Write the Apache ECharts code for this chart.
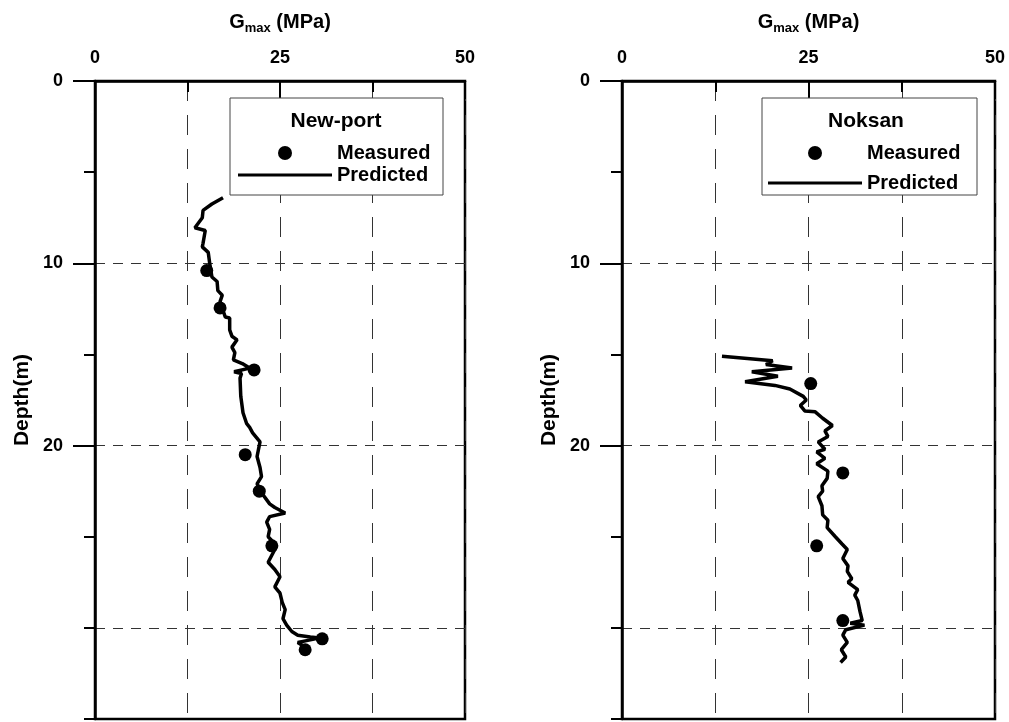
<!DOCTYPE html>
<html>
<head>
<meta charset="utf-8">
<script src="https://cdn.jsdelivr.net/npm/echarts@6/dist/echarts.min.js"></script>
<style>
  html, body { margin: 0; padding: 0; background: #fff; }
  #chart { width: 1009px; height: 722px; }
</style>
</head>
<body>
<div id="chart"></div>
<script>
// New-port site: predicted Gmax profile (depth in m, Gmax in MPa)
var npPredDepth = [6.4, 6.75, 7.1, 7.5, 8.05, 8.2, 8.9, 9.1, 9.4, 10.0, 10.75, 11.0, 11.5, 11.75, 12.1, 12.95, 13.0, 13.65, 14.0, 14.2, 14.6, 14.9, 15.3, 15.5, 15.75, 15.95, 16.05, 16.3, 17.3, 18.2, 18.8, 19.0, 19.3, 19.8, 20.2, 20.6, 21.2, 21.7, 22.1, 22.7, 23.2, 23.4, 23.7, 23.9, 24.2, 24.6, 25.0, 25.3, 25.7, 26.4, 26.8, 27.2, 27.75, 28.1, 28.6, 29.0, 29.5, 29.85, 30.2, 30.4, 30.5, 30.55, 30.7, 30.8, 30.95];
var npPredG = [17.3, 15.8, 14.6, 14.5, 13.5, 14.9, 14.6, 14.5, 15.3, 15.5, 15.8, 16.5, 16.6, 17.2, 16.9, 17.6, 18.2, 18.2, 18.5, 19.2, 18.5, 18.9, 18.7, 19.9, 20.9, 18.8, 19.8, 19.6, 19.7, 20.0, 20.5, 20.9, 21.3, 22.3, 22.1, 21.9, 22.3, 22.5, 21.9, 22.7, 23.6, 24.3, 25.7, 23.6, 23.2, 23.6, 23.4, 24.1, 24.3, 23.4, 24.3, 25.0, 24.3, 25.0, 25.3, 25.7, 25.4, 25.9, 26.6, 27.4, 29.1, 30.4, 28.6, 27.4, 28.0];
// New-port measured points
var npMeasDepth = [10.4, 12.45, 15.85, 20.5, 22.5, 25.5, 30.6, 31.2];
var npMeasG = [15.1, 16.9, 21.5, 20.3, 22.2, 23.9, 30.7, 28.4];

// Noksan site
var nkPredDepth = [15.1, 15.35, 15.55, 15.75, 15.95, 16.2, 16.5, 16.7, 16.9, 17.3, 17.5, 17.8, 18.1, 18.15, 18.5, 18.9, 19.2, 19.5, 19.8, 20.2, 20.35, 20.7, 21.0, 21.4, 21.8, 22.2, 22.5, 22.8, 23.3, 23.8, 24.1, 24.5, 25.0, 25.4, 25.7, 26.2, 26.6, 26.9, 27.3, 27.5, 27.9, 28.2, 28.5, 29.1, 29.6, 29.75, 29.85, 30.1, 30.4, 30.8, 31.2, 31.6, 31.9];
var nkPredG = [13.4, 20.2, 19.3, 22.8, 17.4, 20.9, 16.5, 20.5, 22.5, 24.3, 24.7, 23.9, 24.5, 25.9, 26.9, 28.2, 27.2, 27.6, 26.3, 27.2, 26.1, 27.2, 26.1, 27.6, 27.5, 26.8, 26.9, 26.3, 26.8, 26.9, 27.6, 27.5, 28.6, 29.5, 30.2, 29.6, 30.3, 30.2, 30.8, 30.3, 31.6, 31.2, 31.6, 31.9, 32.2, 30.6, 32.5, 30.0, 29.6, 30.2, 29.4, 30.0, 29.3];
var nkMeasDepth = [16.6, 21.5, 25.5, 29.6];
var nkMeasG = [25.3, 29.6, 26.1, 29.6];

var siteNames = ["New-port", "Noksan"];
var depthTicks = [0, 10, 20, 30];

var FONT = "'Liberation Sans', Arial, sans-serif";

function pairs(g, d) {
  return g.map(function (v, i) { return [v, d[i]]; });
}

function xAxisFor(gi) {
  var dash = { color: "#333", width: 1, type: [20, 14] };
  return {
    gridIndex: gi,
    type: "value",
    position: "top",
    min: 0,
    max: 50,
    interval: 25,
    name: "{g|G}{s|max}{g| (MPa)}",
    nameLocation: "middle",
    nameGap: 46,
    nameTextStyle: {
      rich: {
        g: { fontSize: 20, fontWeight: "bold", fontFamily: FONT, color: "#000" },
        s: { fontSize: 13, fontWeight: "bold", fontFamily: FONT, color: "#000", padding: [12, 0, 0, 0] },
      },
    },
    axisLine: { lineStyle: { color: "#000", width: 2.5 } },
    axisTick: { inside: true, length: 18, lineStyle: { color: "#000", width: 2 } },
    minorTick: { show: true, splitNumber: 2, length: 11, lineStyle: { color: "#000", width: 2 } },
    axisLabel: { color: "#000", fontSize: 18, fontWeight: "bold", fontFamily: FONT, margin: 14 },
    splitLine: { show: true, lineStyle: dash },
    minorSplitLine: { show: true, lineStyle: dash },
  };
}

function yAxesFor(gi) {
  return [
    {
      gridIndex: gi,
      type: "value",
      position: "left",
      inverse: true,
      min: 0,
      max: 35,
      interval: 10,
      name: "Depth(m)",
      nameLocation: "middle",
      nameGap: 62,
      nameTextStyle: { color: "#000", fontSize: 21, fontWeight: "bold", fontFamily: FONT },
      axisLine: { lineStyle: { color: "#000", width: 2.5 } },
      axisTick: { length: 22, customValues: depthTicks, lineStyle: { color: "#000", width: 2 } },
      axisLabel: {
        color: "#000", fontSize: 18, fontWeight: "bold", fontFamily: FONT, margin: 32,
        showMaxLabel: false, customValues: depthTicks,
      },
      splitLine: { show: true, lineStyle: { color: "#333", width: 1, type: [10, 8] } },
    },
    {
      // short ticks every 5 m
      gridIndex: gi,
      type: "value",
      position: "left",
      inverse: true,
      min: 0,
      max: 35,
      interval: 5,
      axisLine: { show: false },
      axisTick: { length: 11, lineStyle: { color: "#000", width: 2 } },
      axisLabel: { show: false },
      splitLine: { show: false },
    },
  ];
}

function legendFor(left, gap) {
  return {
    left: left,
    top: 143,
    orient: "vertical",
    padding: 0,
    itemWidth: 94,
    itemHeight: 14,
    itemGap: gap,
    selectedMode: false,
    itemStyle: { opacity: 1 },
    textStyle: { color: "#000", fontSize: 20, fontWeight: "bold", fontFamily: FONT },
    data: [
      { name: "Measured", icon: "circle", itemStyle: { color: "#000", opacity: 1 } },
      { name: "Predicted", icon: "path://M0,0 L94,0 L94,3 L0,3 Z", itemStyle: { color: "#000", opacity: 1 } },
    ],
  };
}

function boxFor(x, w, title, cx) {
  return [
    {
      type: "rect",
      z: 3,
      shape: { x: x, y: 98, width: w, height: 97 },
      style: { fill: "#fff", stroke: "#444", lineWidth: 1 },
    },
    {
      type: "text",
      z: 5,
      x: cx,
      y: 121,
      style: {
        text: title,
        font: "bold 21px " + FONT,
        fill: "#000",
        align: "center",
        verticalAlign: "middle",
        textAlign: "center",
        textVerticalAlign: "middle",
      },
    },
  ];
}

var chart = echarts.init(document.getElementById("chart"));

var yAxes = yAxesFor(0).concat(yAxesFor(1));

var option = {
  animation: false,
  backgroundColor: "#fff",
  grid: [
    { left: 95, top: 81, width: 370, height: 638, show: true, borderColor: "#000", borderWidth: 2.5 },
    { left: 622, top: 81, width: 373, height: 638, show: true, borderColor: "#000", borderWidth: 2.5 },
  ],
  xAxis: [xAxisFor(0), xAxisFor(1)],
  yAxis: yAxes,
  legend: [legendFor(238, 2), legendFor(768, 10)],
  graphic: boxFor(230, 213, siteNames[0], 336).concat(boxFor(762, 215, siteNames[1], 866)),
  series: [
    {
      name: "Predicted", type: "line", xAxisIndex: 0, yAxisIndex: 0,
      symbol: "none", lineStyle: { color: "#000", width: 3.5 }, itemStyle: { color: "#000" },
      data: pairs(npPredG, npPredDepth),
    },
    {
      name: "Measured", type: "scatter", xAxisIndex: 0, yAxisIndex: 0,
      symbolSize: 13, itemStyle: { color: "#000", opacity: 1 },
      data: pairs(npMeasG, npMeasDepth),
    },
    {
      name: "Predicted", type: "line", xAxisIndex: 1, yAxisIndex: 2,
      symbol: "none", lineStyle: { color: "#000", width: 3.5 }, itemStyle: { color: "#000" },
      data: pairs(nkPredG, nkPredDepth),
    },
    {
      name: "Measured", type: "scatter", xAxisIndex: 1, yAxisIndex: 2,
      symbolSize: 13, itemStyle: { color: "#000", opacity: 1 },
      data: pairs(nkMeasG, nkMeasDepth),
    },
  ],
};

chart.setOption(option);
</script>
</body>
</html>
